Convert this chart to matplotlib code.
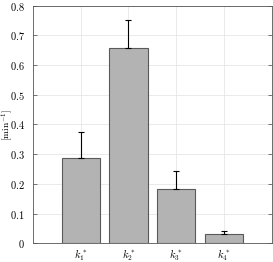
import matplotlib
matplotlib.use("Agg")
import matplotlib.pyplot as plt

# rate constants and their (upper) error bars
labels = [r'$k_1^*$', r'$k_2^*$', r'$k_3^*$', r'$k_4^*$']
values = [0.286, 0.656, 0.182, 0.033]
errors = [0.090, 0.095, 0.063, 0.008]
yticks = [0, 0.1, 0.2, 0.3, 0.4, 0.5, 0.6, 0.7, 0.8]

plt.rcParams['mathtext.fontset'] = 'cm'
plt.rcParams['font.family'] = 'serif'
plt.rcParams['font.serif'] = ['cmr10', 'DejaVu Serif']
plt.rcParams['axes.formatter.use_mathtext'] = True

fig = plt.figure(figsize=(2.73, 2.62), dpi=100)
ax = fig.add_axes([0.121, 0.071, 0.874, 0.908])

x = [1, 2, 3, 4]
ax.bar(x, values, width=0.8, color='#b3b3b3', edgecolor='#5a5a5a', linewidth=0.8, zorder=2)
ax.errorbar(x, values, yerr=[[0]*4, errors], fmt='none', ecolor='black',
            elinewidth=0.8, capsize=2, capthick=0.8, zorder=3)

ax.set_xlim(0, 5)
ax.set_ylim(0, 0.8)
ax.set_xticks(x)
ax.set_xticklabels(labels, fontsize=7.5)
ax.set_yticks(yticks)
ax.set_yticklabels(['$%g$' % v for v in yticks], fontsize=7.5)
# y label placed by hand so it stays inside the small canvas
fig.text(0.025, 0.525, r'$[\mathrm{min}^{-1}]$', fontsize=7, rotation=90,
         ha='center', va='center')

ax.grid(True, color='#e6e6e6', linewidth=0.6, zorder=0)
ax.set_axisbelow(True)
ax.tick_params(direction='in', length=3, width=0.5, color='#444444', top=True, right=True,
               pad=6)
ax.tick_params(axis='x', top=False, length=0, pad=3)
for s in ax.spines.values():
    s.set_color('#555555')
    s.set_linewidth(0.6)

fig.savefig('out.png', dpi=100)
